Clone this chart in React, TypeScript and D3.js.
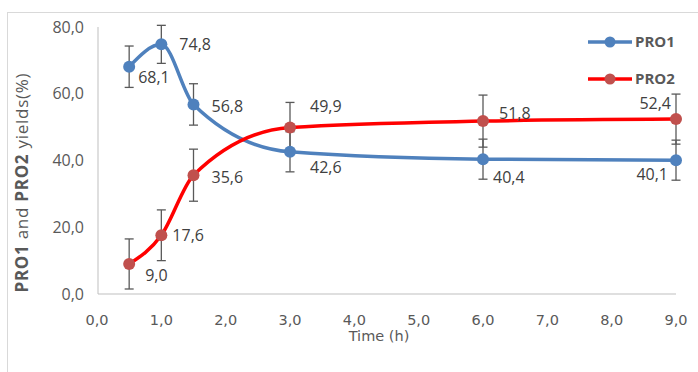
import React from 'react'
import * as d3 from 'd3'

const times = [0.5, 1, 1.5, 3, 6, 9]
const pro1 = [68.1, 74.8, 56.8, 42.6, 40.4, 40.1]
const pro1Err = [6.2, 5.7, 6.2, 6.0, 6.0, 6.0]
const pro2 = [9.0, 17.6, 35.6, 49.9, 51.8, 52.4]
const pro2Err = [7.5, 7.6, 7.8, 7.5, 7.8, 7.5]
const xTicks = [0, 1, 2, 3, 4, 5, 6, 7, 8, 9]
const yTicks = [0, 20, 40, 60, 80]

// where each data label sits relative to its point: [dx, dy, anchor]
const pro1LabelPos: [number, number, string][] = [
  [9, 11, 'start'], [18, 0, 'start'], [18, 2, 'start'],
  [20, 16, 'start'], [10, 18, 'start'], [-8, 14, 'end'],
]
const pro2LabelPos: [number, number, string][] = [
  [16, 11, 'start'], [11, 0, 'start'], [18, 2, 'start'],
  [20, -21, 'start'], [16, -8, 'start'], [-5, -16, 'end'],
]

const W = 698
const H = 372
const fmt = (v: number) => v.toFixed(1).replace('.', ',')

export default function App() {
  const x = d3.scaleLinear().domain([0, 9]).range([97, 676])
  const y = d3.scaleLinear().domain([0, 80]).range([294, 27])

  const line = d3.line<[number, number]>()
    .x(d => x(d[0]))
    .y(d => y(d[1]))
    .curve(d3.curveMonotoneX)

  const series = [
    { name: 'PRO1', vals: pro1, err: pro1Err, line: '#4F81BD', marker: '#4F81BD', pos: pro1LabelPos },
    { name: 'PRO2', vals: pro2, err: pro2Err, line: '#FF0000', marker: '#C0504D', pos: pro2LabelPos },
  ]

  const gray = '#595959'
  const fontMain = '"Open Sans", "DejaVu Sans", sans-serif'

  return (
    <svg width={W} height={H} style={{ position: 'absolute', left: 0, top: 0, background: '#fff' }}>
      <rect x={7.5} y={12.5} width={W + 10} height={H + 10} fill="#fff" stroke="#d9d9d9" />

      {/* axes */}
      <line x1={x(0) + 1} x2={x(0) + 1} y1={y(80)} y2={y(0)} stroke="#bfbfbf" />
      <line x1={x(0) + 1} x2={x(9)} y1={y(0)} y2={y(0)} stroke="#bfbfbf" />

      {yTicks.map(t => (
        <text key={t} x={84} y={y(t)} dy="0.35em" textAnchor="end" fontSize={16}
          fontFamily={fontMain} fill={gray}>{fmt(t)}</text>
      ))}
      {xTicks.map(t => (
        <text key={t} x={x(t)} y={320} dy="0.35em" textAnchor="middle" fontSize={14.5}
          fontFamily='"DejaVu Sans", sans-serif' fill={gray}>{fmt(t)}</text>
      ))}
      <text x={379} y={336} dy="0.35em" textAnchor="middle" fontSize={14.5}
        fontFamily='"DejaVu Sans", sans-serif' fill={gray}>Time (h)</text>

      <text transform="translate(22,183) rotate(-90)" textAnchor="middle" fontSize={17}
        fontFamily={fontMain} fill={gray} dy="0.35em" textLength={219} lengthAdjust="spacing">
        <tspan fontWeight="bold">PRO1</tspan> and <tspan fontWeight="bold">PRO2</tspan> yields(%)
      </text>

      {/* error bars */}
      {series.map(s => (
        <g key={s.name + 'err'} stroke={gray} strokeWidth={1.3}>
          {times.map((t, i) => {
            const cx = x(t)
            const y1 = y(s.vals[i] + s.err[i])
            const y2 = y(s.vals[i] - s.err[i])
            return (
              <g key={i}>
                <line x1={cx} x2={cx} y1={y1} y2={y2} />
                <line x1={cx - 4.5} x2={cx + 4.5} y1={y1} y2={y1} />
                <line x1={cx - 4.5} x2={cx + 4.5} y1={y2} y2={y2} />
              </g>
            )
          })}
        </g>
      ))}

      {/* lines */}
      {series.map(s => (
        <path key={s.name + 'line'} d={line(times.map((t, i) => [t, s.vals[i]] as [number, number])) || ''}
          fill="none" stroke={s.line} strokeWidth={3.5} strokeLinecap="round" />
      ))}

      {/* markers */}
      {series.map(s => (
        <g key={s.name + 'mk'}>
          {times.map((t, i) => (
            <circle key={i} cx={x(t)} cy={y(s.vals[i])} r={6} fill={s.marker} />
          ))}
        </g>
      ))}

      {/* data labels */}
      {series.map(s => (
        <g key={s.name + 'lbl'}>
          {times.map((t, i) => (
            <text key={i} x={x(t) + s.pos[i][0]} y={y(s.vals[i]) + s.pos[i][1]} dy="0.35em"
              textAnchor={s.pos[i][2]} fontSize={16} fontFamily={fontMain} fill="#404040">
              {fmt(s.vals[i])}
            </text>
          ))}
        </g>
      ))}

      {/* legend */}
      {series.map((s, i) => {
        const ly = 42 + i * 37
        return (
          <g key={s.name + 'leg'}>
            <line x1={588} x2={632} y1={ly} y2={ly} stroke={s.line} strokeWidth={3.5} />
            <circle cx={610} cy={ly} r={5.5} fill={s.marker} />
            <text x={635} y={ly} dy="0.35em" fontSize={15} fontWeight="bold"
              fontFamily={fontMain} fill={gray}>{s.name}</text>
          </g>
        )
      })}
    </svg>
  )
}
